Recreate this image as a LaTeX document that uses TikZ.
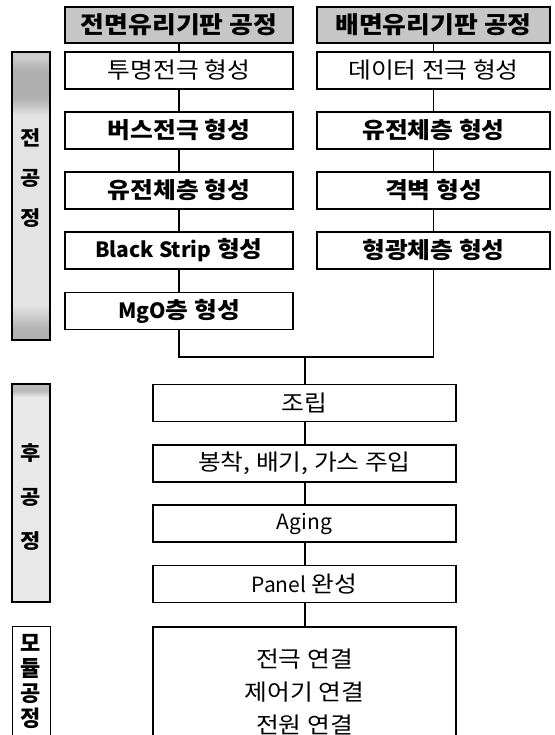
\documentclass[tikz,border=0pt]{standalone}
\usepackage{fontspec}
\setmainfont{Noto Sans CJK KR}[FakeStretch=1.1]
\newfontfamily\latf{Noto Sans CJK KR}
\newcommand{\lat}[1]{{\latf\fontsize{21}{24}\selectfont #1}}
\pgfdeclareverticalshading{barA}{100bp}{color(0bp)=(gray!60); color(27bp)=(gray!60); color(31bp)=(gray!22); color(64bp)=(gray!22); color(67bp)=(gray!62); color(72bp)=(gray!62); color(74bp)=(gray!40); color(100bp)=(gray!40)}
\pgfdeclareverticalshading{barB}{100bp}{color(0bp)=(gray!18); color(72bp)=(gray!18); color(73.5bp)=(gray!55); color(100bp)=(gray!55)}
\begin{document}
\begin{tikzpicture}[x=1pt,y=-1pt,
  hdr/.style={draw=black, line width=1.2pt, fill=gray!45, minimum height=36pt, inner sep=0pt, font=\fontsize{23.5}{26}\selectfont\bfseries},
  procbox/.style={draw=black, line width=1.6pt, fill=white, minimum height=37pt, inner sep=0pt, font=\fontsize{22.5}{24}\selectfont},
  boldtxt/.style={font=\fontsize{22.5}{24}\selectfont\bfseries},
  lw/.style={minimum width=228pt},
  rw/.style={minimum width=233pt},
  cw/.style={minimum width=303pt},
  sidebar/.style={draw=black, line width=2pt, minimum width=38pt, inner sep=0pt},
  sidetxt/.style={align=center, inner sep=0pt, font=\fontsize{20}{40}\selectfont\bfseries},
  link/.style={line width=1.3pt},
  linkb/.style={line width=2pt}]
\useasboundingbox (0,0) rectangle (554,735);
\clip (0,0) rectangle (554,735);
\fill[white] (0,0) rectangle (554,735);

% headers
\node[hdr, lw] (hl) at (179,25) {전면유리기판 공정};
\node[hdr, rw] (hr) at (433.5,25) {배면유리기판 공정};

% front glass column
\node[procbox, lw] (l1) at (179,70.5) {투명전극 형성};
\node[procbox, lw, boldtxt] (l2) at (179,130.5) {버스전극 형성};
\node[procbox, lw, boldtxt] (l3) at (179,190.5) {유전체층 형성};
\node[procbox, lw, boldtxt] (l4) at (179,250.5) {\lat{\bfseries Black Strip} 형성};
\node[procbox, lw, boldtxt] (l5) at (179,311) {\lat{\bfseries MgO}층 형성};

% rear glass column
\node[procbox, rw] (r1) at (433.5,70.5) {데이터 전극 형성};
\node[procbox, rw, boldtxt] (r2) at (433.5,130.5) {유전체층 형성};
\node[procbox, rw, boldtxt] (r3) at (433.5,190.5) {격벽 형성};
\node[procbox, rw, boldtxt] (r4) at (433.5,250.5) {형광체층 형성};

% back-end
\node[procbox, cw] (a1) at (304.5,403) {조립};
\node[procbox, cw] (a2) at (304.5,463.5) {봉착, 배기, 가스 주입};
\node[procbox, cw] (a3) at (304.5,523.5) {\lat{Aging}};
\node[procbox, cw] (a4) at (304.5,584) {\lat{Panel} 완성};
\node[procbox, cw, anchor=north, minimum height=130pt, align=center,
      font=\fontsize{22.5}{33}\selectfont] (a5) at (304.5,626) {전극 연결\\제어기 연결\\전원 연결};

% junction
\coordinate (jl) at (179,357);
\coordinate (jr) at (433.5,357);
\coordinate (jm) at (304.5,357);

% connectors
\draw[link] (hl) -- (l1);
\draw[link] (l1) -- (l2);
\draw[link] (l2) -- (l3);
\draw[link] (l3) -- (l4);
\draw[link] (l4) -- (l5);
\draw[link] (hr) -- (r1);
\draw[link] (r1) -- (r2);
\draw[link] (r2) -- (r3);
\draw[link] (r3) -- (r4);
\draw[link] (l5.south) -- (jl) -- (jr) -- (r4.south);
\draw[linkb] (jm) -- (a1);
\draw[linkb] (a1) -- (a2);
\draw[linkb] (a2) -- (a3);
\draw[linkb] (a3) -- (a4);
\draw[linkb] (a4) -- (a5);

% side bars
\node[sidebar, shading=barA, minimum height=288pt] (s1) at (31,196) {};
\node[sidetxt] (t1) at (31,178) {전\\공\\정};
\node[sidebar, shading=barB, minimum height=218pt] (s2) at (31,493) {};
\node[sidetxt, font=\fontsize{20}{44}\selectfont\bfseries] (t2) at (31,497) {후\\공\\정};
\node[sidebar, line width=1pt, fill=white, anchor=north, minimum height=130pt] (s3) at (31,626) {};
\node[sidetxt, font=\latf\fontsize{22}{25}\selectfont\bfseries] (t3) at (31,681) {모\\듈\\공\\정};
\end{tikzpicture}
\end{document}
